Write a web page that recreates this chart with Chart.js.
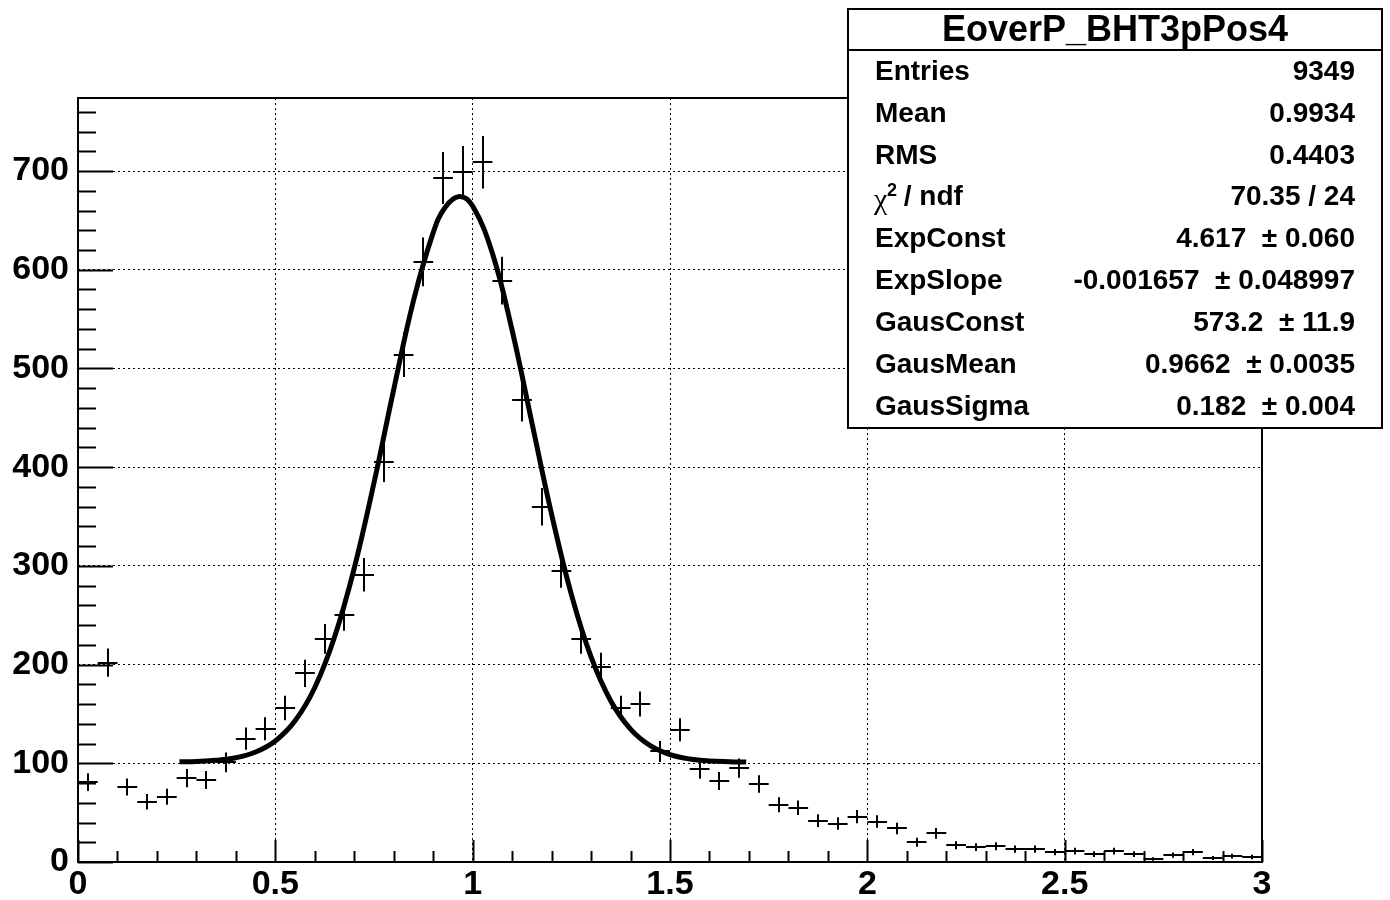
<!DOCTYPE html>
<html>
<head>
<meta charset="utf-8">
<script src="https://cdn.jsdelivr.net/npm/chart.js@4.4.1/dist/chart.umd.min.js"></script>
<style>
  html, body { margin: 0; padding: 0; background: #fff; }
  #wrap { width: 1390px; height: 900px; }
</style>
</head>
<body>
<div id="wrap"><canvas id="eopChart" width="1390" height="900"></canvas></div>
<script>
// Histogram EoverP_BHT3pPos4: 60 bins of width 0.05 from 0 to 3
const binLow = 0;
const binWidth = 0.05;
const counts = [
    81, 202, 76, 61, 66, 85, 83, 101, 125, 135,
    156, 191, 226, 250, 291, 405, 514, 608, 693, 699,
    709, 589, 468, 360, 295, 226, 198, 156, 160, 112,
    134, 94, 82, 95, 79, 58, 55, 42, 39, 46,
    41, 34, 20, 29, 17, 15, 16, 13, 13, 10,
    11, 8, 11, 8, 3, 7, 10, 4, 6, 5
];

// Fit curve (exp + gaus)
const fitX = [0.257, 0.30, 0.35, 0.40, 0.45, 0.50, 0.55, 0.60, 0.65, 0.70, 0.75, 0.80, 0.85, 0.90, 0.93,
    0.966, 1.00, 1.05, 1.10, 1.15, 1.20, 1.25, 1.30, 1.35, 1.40, 1.45, 1.50, 1.55, 1.60, 1.65, 1.693];
const fitY = [101.5, 101.9, 103.0, 105.6, 111.4, 122.6, 143.0, 176.8, 227.9, 297.8, 384.2, 478.8, 568.6, 637.6, 663.1,
    674.3, 664.5, 616.6, 538.6, 445.3, 352.3, 271.1, 207.7, 163.1, 134.6, 117.8, 108.8, 104.4, 102.4, 101.6, 101.2];

// Axis ticks
const xTicks = [0, 0.5, 1, 1.5, 2, 2.5, 3];
const yTicks = [0, 100, 200, 300, 400, 500, 600, 700];

// Stats box text
const statsTitle = 'EoverP_BHT3pPos4';
const statsLabels = ['Entries', 'Mean', 'RMS', 'CHI2', 'ExpConst', 'ExpSlope', 'GausConst', 'GausMean', 'GausSigma'];
const statsValues = ['9349', '0.9934', '0.4403', '70.35 / 24', '4.617  \u00b1 0.060', '-0.001657  \u00b1 0.048997',
    '573.2  \u00b1 11.9', '0.9662  \u00b1 0.0035', '0.182  \u00b1 0.004'];

const FONT = '"Liberation Sans", Arial, Helvetica, sans-serif';

const histPoints = counts.map((c, i) => ({ x: binLow + binWidth * (i + 0.5), y: c }));
const fitPoints = fitX.map((x, i) => ({ x: x, y: fitY[i] }));

// Error crosses for the histogram (bin width horizontally, sqrt(N) vertically)
const histErrors = {
    id: 'histErrors',
    beforeDatasetsDraw(chart) {
        const { ctx, scales: { x, y } } = chart;
        ctx.save();
        ctx.strokeStyle = '#000';
        ctx.lineWidth = 2;
        ctx.beginPath();
        histPoints.forEach(p => {
            const err = Math.sqrt(p.y);
            const px = Math.round(x.getPixelForValue(p.x));
            const py = Math.round(y.getPixelForValue(p.y));
            ctx.moveTo(x.getPixelForValue(p.x - binWidth / 2), py);
            ctx.lineTo(x.getPixelForValue(p.x + binWidth / 2), py);
            ctx.moveTo(px, y.getPixelForValue(p.y - err));
            ctx.lineTo(px, y.getPixelForValue(p.y + err));
        });
        ctx.stroke();
        ctx.restore();
    }
};

// ROOT style frame with inside tick marks
const frameTicks = {
    id: 'frameTicks',
    afterDatasetsDraw(chart) {
        const { ctx, chartArea: a, scales: { x, y } } = chart;
        ctx.save();
        ctx.strokeStyle = '#000';
        ctx.lineWidth = 2;
        ctx.strokeRect(a.left, a.top, a.right - a.left, a.bottom - a.top);
        ctx.beginPath();
        for (let v = 0; v <= y.max + 1e-9; v += 20) {
            const py = Math.round(y.getPixelForValue(v)) + 0.5;
            const len = (v % 100 === 0) ? 35 : 18;
            ctx.moveTo(a.left, py);
            ctx.lineTo(a.left + len, py);
        }
        for (let i = 0; i <= 30; i++) {
            const px = Math.round(x.getPixelForValue(i * 0.1)) + 0.5;
            const len = (i % 5 === 0) ? 22 : 11;
            ctx.moveTo(px, a.bottom);
            ctx.lineTo(px, a.bottom - len);
        }
        ctx.stroke();
        ctx.restore();
    }
};

// Statistics / fit parameter box
const statsBox = {
    id: 'statsBox',
    afterDraw(chart) {
        const ctx = chart.ctx;
        const L = 848, T = 9, R = 1382, B = 428;
        ctx.save();
        ctx.fillStyle = '#fff';
        ctx.fillRect(L, T, R - L, B - T);
        ctx.strokeStyle = '#000';
        ctx.lineWidth = 2;
        ctx.strokeRect(L, T, R - L, B - T);
        ctx.beginPath();
        ctx.moveTo(L, 50);
        ctx.lineTo(R, 50);
        ctx.stroke();

        ctx.fillStyle = '#000';
        ctx.textBaseline = 'middle';
        ctx.textAlign = 'center';
        ctx.font = 'bold 36px ' + FONT;
        ctx.fillText(statsTitle, (L + R) / 2, 31);

        ctx.font = 'bold 28px ' + FONT;
        statsLabels.forEach((lab, i) => {
            const yy = 72 + i * 41.9;
            ctx.textAlign = 'left';
            if (lab === 'CHI2') {
                ctx.font = '30px "Liberation Serif", serif';
                ctx.fillText('\u03c7', 874, yy + 3);
                ctx.font = 'bold 18px ' + FONT;
                ctx.fillText('2', 887, yy - 7);
                ctx.font = 'bold 28px ' + FONT;
                ctx.fillText(' / ndf', 896, yy);
            } else {
                ctx.fillText(lab, 875, yy);
            }
            ctx.textAlign = 'right';
            ctx.fillText(statsValues[i], 1355, yy);
        });
        ctx.restore();
    }
};

let eopChart = null;

function initChart() {
    const ctx = document.getElementById('eopChart').getContext('2d');

    const data = {
        datasets: [
            {
                type: 'scatter',
                label: 'EoverP_BHT3pPos4',
                data: histPoints,
                pointRadius: 0,
                pointHoverRadius: 0,
                showLine: false
            },
            {
                type: 'line',
                label: 'fit',
                data: fitPoints,
                borderColor: '#000',
                borderWidth: 5,
                borderCapStyle: 'butt',
                pointRadius: 0,
                tension: 0.4,
                fill: false
            }
        ]
    };

    const tickFont = { family: FONT, size: 34, weight: 'bold' };

    const config = {
        type: 'scatter',
        data: data,
        options: {
            responsive: false,
            animation: false,
            events: [],
            layout: { padding: { left: 0, top: 98, right: 128, bottom: 0 } },
            plugins: {
                legend: { display: false },
                tooltip: { enabled: false },
                title: { display: false }
            },
            scales: {
                x: {
                    type: 'linear',
                    min: 0,
                    max: 3,
                    afterFit: (s) => { s.height = 38; },
                    afterBuildTicks: (s) => { s.ticks = xTicks.map(v => ({ value: v })); },
                    ticks: {
                        color: '#000',
                        font: tickFont,
                        padding: 2,
                        maxRotation: 0,
                        autoSkip: false,
                        callback: (v) => String(v)
                    },
                    grid: { color: '#000', lineWidth: 1, drawTicks: false },
                    border: { display: false, dash: [2, 3] }
                },
                y: {
                    type: 'linear',
                    min: 0,
                    max: 774,
                    afterFit: (s) => { s.width = 78; },
                    afterBuildTicks: (s) => { s.ticks = yTicks.map(v => ({ value: v })); },
                    ticks: {
                        color: '#000',
                        font: tickFont,
                        padding: 9,
                        autoSkip: false,
                        callback: (v) => String(v)
                    },
                    grid: { color: '#000', lineWidth: 1, drawTicks: false },
                    border: { display: false, dash: [2, 3] }
                }
            }
        },
        plugins: [histErrors, frameTicks, statsBox]
    };

    eopChart = new Chart(ctx, config);
}

document.addEventListener('DOMContentLoaded', () => {
    initChart();
});
</script>
</body>
</html>
